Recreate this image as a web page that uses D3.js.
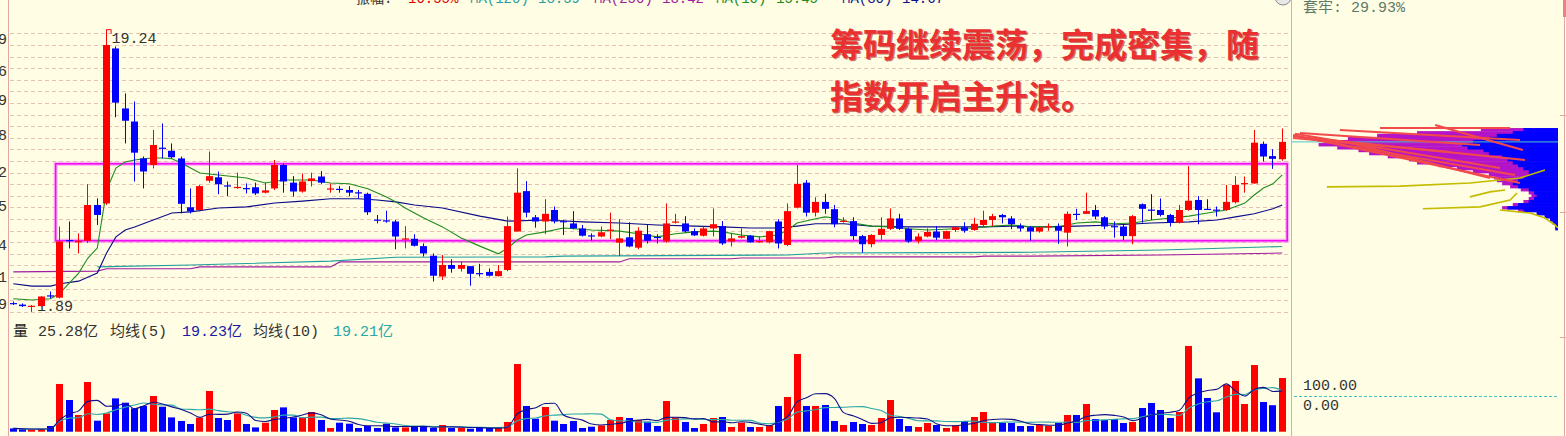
<!DOCTYPE html>
<html>
<head>
<meta charset="utf-8">
<script src="https://cdn.jsdelivr.net/npm/d3@7"></script>
<style>
body { margin: 0; background: #fffde3; }
svg { display: block; }
</style>
</head>
<body>
<div id="chart"></div>
<script>
// daily candles, day 1..137
var openP = [12.12,12.08,12.04,12.04,12.32,12.26,13.76,13.71,13.74,14.67,14.71,18.74,17.18,16.84,15.88,15.71,16.16,16.08,15.88,14.61,
  14.54,15.30,15.39,15.18,15.11,15.11,15.13,14.99,15.10,15.71,15.25,15.02,15.29,15.41,15.09,15.09,15.06,15.00,14.96,14.29,
  14.27,14.24,13.79,13.79,13.60,13.35,12.81,13.11,13.01,13.08,12.90,12.93,12.82,12.98,13.98,15.03,14.35,14.24,14.54,14.25,
  14.19,14.06,13.88,13.85,14.01,13.69,13.83,13.56,13.91,13.84,13.72,14.22,14.19,13.99,13.87,14.06,14.12,13.72,13.82,13.87,
  13.71,13.70,14.24,13.63,14.60,15.25,14.47,14.75,14.56,14.25,14.25,13.86,13.65,13.89,14.05,14.32,14.05,13.73,13.85,13.98,
  13.79,14.02,14.09,14.02,14.15,14.28,14.41,14.32,14.13,14.09,13.98,14.09,14.12,13.95,14.44,14.44,14.54,14.35,14.12,14.11,
  13.86,14.69,14.55,14.54,14.41,14.21,14.54,14.80,14.57,14.55,14.54,14.74,15.22,15.23,16.26,15.94,15.86];
var highP = [12.16,12.11,12.07,12.30,12.42,14.11,14.24,13.93,15.21,14.84,19.24,18.79,17.57,17.36,15.93,16.62,16.79,16.27,15.93,15.10,
  15.19,16.06,15.54,15.28,15.51,15.23,15.25,15.25,15.84,15.75,15.42,15.49,15.51,15.55,15.23,15.16,15.16,15.06,14.99,14.41,
  14.52,14.28,14.12,13.91,13.67,13.41,13.37,13.26,13.20,13.08,13.14,13.02,13.11,14.37,15.62,15.29,14.41,14.82,14.63,14.28,
  14.51,14.15,13.93,14.11,14.47,14.30,14.22,14.09,14.15,13.91,14.71,14.44,14.38,14.06,14.11,14.58,14.25,13.93,14.06,13.89,
  13.85,14.00,14.30,14.71,15.71,15.32,14.87,14.96,14.67,14.35,14.35,13.89,13.91,14.35,14.58,14.44,14.08,13.93,14.06,14.12,
  14.00,14.12,14.22,14.34,14.52,14.44,14.44,14.38,14.19,14.12,14.12,14.19,14.19,14.50,14.57,14.99,14.67,14.38,14.24,14.15,
  14.41,14.71,14.95,14.84,14.44,14.67,15.68,14.90,14.82,14.63,15.19,15.42,15.41,16.62,16.32,16.12,16.66];
var lowP = [12.07,12.02,11.89,12.03,12.24,12.24,13.54,13.41,13.68,14.15,14.67,16.95,16.27,15.28,15.10,15.62,15.88,15.88,14.45,14.45,
  14.50,15.25,14.95,14.90,15.09,14.97,14.93,14.97,15.06,14.99,14.89,14.99,15.15,15.22,14.99,14.99,14.90,14.84,14.41,14.19,
  14.21,13.52,13.54,13.59,13.33,12.68,12.72,12.91,12.94,12.57,12.81,12.81,12.81,12.95,13.98,14.35,14.08,13.92,14.19,13.89,
  14.04,13.85,13.74,13.83,13.78,13.34,13.57,13.52,13.67,13.67,13.69,14.19,13.95,13.86,13.85,13.85,13.63,13.59,13.80,13.69,
  13.69,13.67,13.54,13.60,14.58,14.37,14.37,14.44,14.09,14.21,13.76,13.43,13.57,13.76,14.02,14.02,13.69,13.67,13.83,13.76,
  13.78,13.97,13.95,14.00,14.12,14.12,14.19,14.04,13.98,13.74,13.95,14.00,13.66,13.59,14.28,14.44,14.30,14.04,13.82,13.76,
  13.65,14.21,14.28,14.37,14.11,14.19,14.52,14.17,14.54,14.37,14.52,14.71,14.99,15.22,15.80,15.61,15.82];
var closeP = [12.11,12.04,12.05,12.29,12.29,13.72,13.73,13.73,14.67,14.41,18.83,17.33,16.86,16.03,15.54,16.23,16.13,15.91,14.70,14.50,
  15.16,15.42,15.21,15.15,15.14,15.09,14.97,15.05,15.71,15.28,15.02,15.28,15.36,15.25,15.10,15.07,14.99,14.98,14.48,14.27,
  14.25,13.85,13.80,13.61,13.41,12.83,13.11,13.01,13.11,12.88,12.89,12.83,12.95,14.12,14.99,14.47,14.24,14.44,14.24,14.23,
  14.06,13.87,13.86,13.96,14.03,13.80,13.59,14.00,13.74,13.82,14.19,14.24,13.98,13.88,14.06,14.17,13.67,13.80,13.86,13.70,
  13.73,13.99,13.67,14.51,15.22,14.47,14.75,14.57,14.17,14.26,13.86,13.65,13.89,14.05,14.32,14.05,13.72,13.85,13.97,13.82,
  13.99,14.09,14.00,14.18,14.28,14.38,14.35,14.17,14.06,13.98,14.09,14.12,14.00,14.44,14.42,14.51,14.37,14.11,14.10,13.86,
  14.38,14.57,14.53,14.41,14.21,14.54,14.78,14.54,14.55,14.53,14.75,15.19,15.24,16.29,15.93,15.87,16.31];
// volume, 亿
var volume = [1.55,1.08,1.08,1.08,2.68,22.46,14.92,7.86,23.40,5.18,8.62,15.68,13.65,10.97,12.10,16.81,11.77,6.73,5.04,3.63,
  6.59,19.16,6.45,5.51,8.62,3.63,2.02,4.24,10.22,11.44,6.73,6.73,9.27,5.51,1.74,4.24,3.77,1.74,2.68,1.74,
  3.77,2.02,2.02,2.35,2.35,1.74,3.15,1.74,1.74,1.41,1.74,1.74,1.74,4.57,31.87,12.10,6.12,11.63,5.18,3.63,
  5.04,1.74,2.35,2.97,5.51,6.92,6.45,5.51,4.71,2.68,14.45,6.73,4.57,1.74,3.63,6.45,6.92,2.21,4.24,2.21,
  2.21,2.97,12.10,16.34,36.58,12.10,12.10,12.57,5.04,3.15,4.57,3.63,3.15,6.45,14.92,5.98,2.68,2.21,4.10,3.15,
  1.74,2.97,5.04,6.92,9.27,4.57,4.10,4.10,2.68,2.68,3.15,2.68,4.10,7.86,7.86,13.04,5.98,5.51,5.98,4.10,
  4.57,11.16,13.51,10.22,6.45,9.27,40.35,25.10,15.87,9.13,21.99,23.87,13.04,31.40,13.98,12.47,25.28];

// moving average lines (day, price)
var greenDay = [1,3,5,6,7,8,9,10,11,12,13,14,15,16,17,18,19,20,21,23,26,28,30,33,35,37,39,41,42,43,45,47,49,51,53,54,55,56,58,60,
  63,66,68,70,72,74,76,77,79,81,83,84,85,87,88,89,91,93,95,97,99,102,104,106,108,110,111,113,115,117,119,121,123,125,127,129,131,133,134,135,136,137];
var greenVal = [12.23,12.20,12.23,12.38,12.64,12.90,13.29,13.55,15.06,15.63,15.79,15.84,15.87,15.89,15.89,15.87,15.76,15.63,15.50,15.45,
  15.37,15.24,15.32,15.32,15.24,15.22,15.09,14.88,14.75,14.59,14.33,14.10,13.81,13.60,13.40,13.55,13.76,13.89,13.97,14.07,
  14.02,13.99,13.92,13.84,13.92,13.97,13.99,13.97,13.89,13.84,13.89,14.02,14.20,14.31,14.36,14.33,14.20,14.12,14.10,14.05,
  14.02,14.05,14.07,14.12,14.15,14.10,14.10,14.10,14.20,14.23,14.18,14.20,14.28,14.33,14.38,14.46,14.54,14.72,14.93,15.11,15.22,15.45];
var navyDay = [1,3,5,6,8,10,11,12,13,14,16,18,20,23,26,29,32,35,38,40,42,44,47,51,54,58,62,66,70,74,77,80,83,85,87,90,93,97,101,105,
  108,111,115,119,123,127,130,132,134,136,137];
var navyVal = [12.62,12.56,12.56,12.62,12.69,12.90,13.42,13.84,14.02,14.10,14.28,14.46,14.49,14.59,14.62,14.72,14.77,14.83,14.83,14.80,
  14.75,14.67,14.59,14.38,14.25,14.28,14.23,14.20,14.15,14.12,14.10,14.07,14.07,14.12,14.18,14.18,14.12,14.10,14.10,14.10,
  14.12,14.10,14.12,14.15,14.20,14.23,14.28,14.36,14.44,14.57,14.67];
var tealDay = [10,20,35,42,58,60,84,88,100,110,124,137];
var tealVal = [13.06,13.11,13.21,13.31,13.32,13.34,13.37,13.42,13.43,13.44,13.50,13.59];
var purpleDay = [1,10,11,20,21,35,36,66,67,78,79,88,89,104,105,110,124,137];
var purpleVal = [12.93,12.95,13.01,13.01,13.06,13.06,13.19,13.19,13.27,13.27,13.29,13.29,13.32,13.32,13.34,13.34,13.37,13.42];

// left axis tick labels (only the last digit shows at the window edge)
var tickVals = [18.99, 18.16, 17.39, 16.48, 15.52, 14.65, 13.64, 12.81, 12.09];

// chip distribution rows: top price, blue share, total share
var chipPrice = [16.67,16.59,16.52,16.44,16.36,16.28,16.20,16.13,16.05,15.97,15.89,15.81,15.74,15.66,15.58,15.50,15.42,
  15.35,15.27,15.19,15.11,15.03,14.96,14.88,14.80,14.72,14.64,14.57,14.49,14.41,14.33,14.25,14.18,14.10];
var chipBlue = [13,17,23,26,32,36,34,28,26,21,19,17,15,13,11,11,13,15,17,15,11,9,8,9,11,15,19,13,8,5,3,2,1,1];
var chipTotal = [29,53,68,79,86,90,83,75,71,64,56,53,45,38,32,26,24,23,21,18,14,11,10,11,13,17,21,15,8,5,3,2,1,1];
var fanA0 = [99.6,99.6,98.9,97.0,97.0,82.0,46.2,66.9,99.6,78.2];
var fanP0 = [16.49,16.46,16.52,16.44,16.54,16.62,16.75,16.67,16.41,16.28];
var fanA1 = [14.3,16.2,21.8,12.4,29.3,14.3,13.2,18.0,40.6,25.6];
var fanP1 = [15.24,15.45,15.63,15.84,16.23,16.36,16.10,16.67,16.05,15.37];
var edgeA = [[86.9,59.4,33.1,14.3,4.9],[50.8,29.3,18.0,15.4],[21.8,10.5,4.9,1.1,0],[33.1,25.6,19.9]];
var edgeP = [[15.14,15.16,15.24,15.37,15.58],[14.57,14.62,14.80,14.98],[14.54,14.46,14.33,14.15,14.07],[14.88,15.01,15.06]];

var W = 1566, H = 436;
var RED = '#ff0000', BLUE = '#0000ff';
var mono = '"Liberation Mono", "Noto Sans CJK SC", monospace';

var svg = d3.select('#chart').append('svg')
    .attr('width', W)
    .attr('height', H);
svg.append('rect').attr('width', W).attr('height', H).attr('fill', '#fffde3');

var x = d3.scaleLinear().domain([1, 137]).range([13.3, 1282.2]);
var y = d3.scaleLinear().domain([11.89, 19.24]).range([311.9, 29.2]);
var yv = d3.scaleLinear().domain([0, 40]).range([431.7, 346.7]);
var xc = d3.scaleLinear().domain([0, 100]).range([1558, 1292]);

// dashed grid of the price pane
svg.append('g').selectAll('line')
    .data(d3.range(25))
    .enter().append('line')
    .attr('x1', 10).attr('x2', 1290)
    .attr('y1', function (k) { return Math.round(33.3 + 11.6 * k) + 0.5; })
    .attr('y2', function (k) { return Math.round(33.3 + 11.6 * k) + 0.5; })
    .attr('stroke', '#e6c2b4')
    .attr('stroke-dasharray', '4,3');

// frame lines
[8.5, 1291.5, 1564.5].forEach(function (fx) {
    svg.append('line').attr('x1', fx).attr('x2', fx).attr('y1', 0).attr('y2', H)
        .attr('stroke', '#e4a8a0').attr('stroke-width', 1);
});
svg.append('rect').attr('x', 1563).attr('y', 0).attr('width', 3).attr('height', 17).attr('fill', '#f08080');
[115, 212, 337].forEach(function (ty) {
    svg.append('line').attr('x1', 1560).attr('x2', 1566).attr('y1', ty + 0.5).attr('y2', ty + 0.5).attr('stroke', '#e4a8a0');
});

// left axis labels
svg.append('g').selectAll('text')
    .data(tickVals)
    .enter().append('text')
    .attr('x', 7)
    .attr('y', function (d) { return y(d) + 5; })
    .attr('text-anchor', 'end')
    .attr('font-family', mono)
    .attr('font-size', 15)
    .attr('fill', '#333')
    .text(function (d) { return d.toFixed(2); });

// header (cut by the window top)
var header = [
    { t: '振幅:', x: 356, c: '#333' },
    { t: '10.55%', x: 408, c: '#e00000' },
    { t: 'MA(120)', x: 470, c: '#1f9f9f' },
    { t: '13.59', x: 538, c: '#1f9f9f' },
    { t: 'MA(250)', x: 594, c: '#a01ca0' },
    { t: '13.42', x: 662, c: '#a01ca0' },
    { t: 'MA(10)', x: 716, c: '#1e8c1e' },
    { t: '15.45', x: 776, c: '#1e8c1e' },
    { t: 'MA(30)', x: 842, c: '#101090' },
    { t: '14.67', x: 902, c: '#101090' }
];
svg.append('g').selectAll('text')
    .data(header)
    .enter().append('text')
    .attr('x', function (d) { return d.x; })
    .attr('y', 3)
    .attr('font-family', mono)
    .attr('font-size', 14)
    .attr('fill', function (d) { return d.c; })
    .text(function (d) { return d.t; });
svg.append('circle').attr('cx', 1283).attr('cy', -3).attr('r', 8)
    .attr('fill', '#e8e8e8').attr('stroke', '#8a8a8a');

// consolidation box
var boxTop = y(15.74), boxBot = y(13.74);
svg.append('rect')
    .attr('x', x(5) + 5).attr('y', boxTop)
    .attr('width', x(137) + 5 - x(5) - 5).attr('height', boxBot - boxTop)
    .attr('fill', 'none').attr('stroke', '#ff80ff').attr('stroke-width', 4).attr('opacity', 0.6);
svg.append('rect')
    .attr('x', x(5) + 5).attr('y', boxTop)
    .attr('width', x(137) + 5 - x(5) - 5).attr('height', boxBot - boxTop)
    .attr('fill', 'none').attr('stroke', '#ee10ee').attr('stroke-width', 1.6);

// moving averages
function maLine(days, vals, color) {
    var pts = days.map(function (d, i) { return [x(d), y(vals[i])]; });
    svg.append('path')
        .attr('d', d3.line()(pts))
        .attr('fill', 'none')
        .attr('stroke', color)
        .attr('stroke-width', 1.1);
}
maLine(purpleDay, purpleVal, '#a01ca0');
maLine(tealDay, tealVal, '#1f9f9f');
maLine(navyDay, navyVal, '#0a0a8a');
maLine(greenDay, greenVal, '#1e8c1e');

// high / low marks
svg.append('text').attr('x', x(11) + 5).attr('y', y(19.24) + 14)
    .attr('font-family', mono).attr('font-size', 15).attr('fill', '#333').text('19.24');
svg.append('path').attr('d', 'M' + (x(11) + 0.5) + ',' + (y(19.24) + 0.5) + 'h4v4')
    .attr('fill', 'none').attr('stroke', RED);
svg.append('text').attr('x', x(3) + 5).attr('y', y(11.89) - 1)
    .attr('font-family', mono).attr('font-size', 15).attr('fill', '#333').text('1.89');

// candles
var candles = openP.map(function (o, i) {
    return { day: i + 1, o: o, h: highP[i], l: lowP[i], c: closeP[i], v: volume[i] };
});
var bodyW = 7;
var cg = svg.append('g').selectAll('g')
    .data(candles)
    .enter().append('g');
cg.append('line')
    .attr('x1', function (d) { return Math.round(x(d.day) - bodyW / 2) + 3.5; })
    .attr('x2', function (d) { return Math.round(x(d.day) - bodyW / 2) + 3.5; })
    .attr('y1', function (d) { return y(d.h); })
    .attr('y2', function (d) { return y(d.l); })
    .attr('stroke', function (d) { return d.c >= d.o ? RED : BLUE; });
cg.append('rect')
    .attr('x', function (d) { return Math.round(x(d.day) - bodyW / 2); })
    .attr('width', bodyW)
    .attr('y', function (d) { return y(Math.max(d.o, d.c)); })
    .attr('height', function (d) { return Math.max(1.2, Math.abs(y(d.o) - y(d.c))); })
    .attr('fill', function (d) { return d.c >= d.o ? RED : BLUE; });

// annotation
var note = ['筹码继续震荡，完成密集，随', '指数开启主升浪。'];
[['#9a1010', 1.2, 0.55], ['#ea3030', 0, 1]].forEach(function (s) {
    svg.append('g').selectAll('text')
        .data(note)
        .enter().append('text')
        .attr('x', 830 + s[1])
        .attr('y', function (d, i) { return 57 + s[1] + i * 52; })
        .attr('font-family', '"Noto Sans CJK SC", sans-serif')
        .attr('font-weight', 700)
        .attr('font-size', 33)
        .attr('fill', s[0])
        .attr('opacity', s[2])
        .text(function (d) { return d; });
});

// volume pane
var vmaLabel = [
    { t: '量', x: 13, c: '#222' },
    { t: '25.28亿', x: 38, c: '#333' },
    { t: '均线(5)', x: 110, c: '#333' },
    { t: '19.23亿', x: 182, c: '#1a1aa6' },
    { t: '均线(10)', x: 253, c: '#333' },
    { t: '19.21亿', x: 333, c: '#2aa8a8' }
];
svg.append('g').selectAll('text')
    .data(vmaLabel)
    .enter().append('text')
    .attr('x', function (d) { return d.x; })
    .attr('y', 336)
    .attr('font-family', mono)
    .attr('font-size', 15)
    .attr('fill', function (d) { return d.c; })
    .text(function (d) { return d.t; });

svg.append('g').selectAll('rect')
    .data(candles)
    .enter().append('rect')
    .attr('x', function (d) { return Math.round(x(d.day) - bodyW / 2); })
    .attr('width', bodyW)
    .attr('y', function (d) { return yv(d.v); })
    .attr('height', function (d) { return yv(0) - yv(d.v); })
    .attr('fill', function (d) { return d.c >= d.o ? RED : BLUE; });

function volMa(n) {
    return candles.map(function (d, i) {
        return [x(d.day), yv(d3.mean(volume.slice(Math.max(0, i - n + 1), i + 1)))];
    });
}
svg.append('path').attr('d', d3.line().curve(d3.curveMonotoneX)(volMa(10)))
    .attr('fill', 'none').attr('stroke', '#2aa8a8').attr('stroke-width', 1.1);
svg.append('path').attr('d', d3.line().curve(d3.curveMonotoneX)(volMa(5)))
    .attr('fill', 'none').attr('stroke', '#10108a').attr('stroke-width', 1.1);

// right pane: chip distribution
svg.append('text').attr('x', 1303).attr('y', 12)
    .attr('font-family', mono).attr('font-size', 15).attr('fill', '#5f7a6a').text('套牢: 29.93%');

var rowH = y(chipPrice[1]) - y(chipPrice[0]);
var chips = svg.append('g');
chips.selectAll('rect.total')
    .data(chipPrice)
    .enter().append('rect')
    .attr('class', 'total')
    .attr('x', function (d, i) { return xc(chipTotal[i]); })
    .attr('y', function (d) { return y(d); })
    .attr('width', function (d, i) { return xc(0) - xc(chipTotal[i]); })
    .attr('height', rowH + 0.3)
    .attr('fill', '#b414c8');
chips.selectAll('rect.blue')
    .data(chipPrice)
    .enter().append('rect')
    .attr('class', 'blue')
    .attr('x', function (d, i) { return xc(chipBlue[i]); })
    .attr('y', function (d) { return y(d); })
    .attr('width', function (d, i) { return xc(0) - xc(chipBlue[i]); })
    .attr('height', rowH + 0.3)
    .attr('fill', BLUE);
edgeA.forEach(function (arr, k) {
    var pts = arr.map(function (a, i) { return [xc(a), y(edgeP[k][i])]; });
    chips.append('path').attr('d', d3.line()(pts))
        .attr('fill', 'none').attr('stroke', '#c4bc00').attr('stroke-width', 1.6);
});
chips.append('line')
    .attr('x1', xc(100)).attr('x2', xc(0))
    .attr('y1', y(closeP[136])).attr('y2', y(closeP[136]))
    .attr('stroke', '#48c8c8').attr('stroke-width', 1);
chips.selectAll('line.fan')
    .data(fanA0)
    .enter().append('line')
    .attr('class', 'fan')
    .attr('x1', function (d) { return xc(d); })
    .attr('y1', function (d, i) { return y(fanP0[i]); })
    .attr('x2', function (d, i) { return xc(fanA1[i]); })
    .attr('y2', function (d, i) { return y(fanP1[i]); })
    .attr('stroke', '#f24a4a')
    .attr('stroke-width', 2);

// right pane lower labels
svg.append('line').attr('x1', 1294).attr('x2', 1558).attr('y1', 396.5).attr('y2', 396.5)
    .attr('stroke', '#40c8c8').attr('stroke-dasharray', '3,2');
svg.append('text').attr('x', 1303).attr('y', 390)
    .attr('font-family', mono).attr('font-size', 15).attr('fill', '#333').text('100.00');
svg.append('text').attr('x', 1303).attr('y', 410)
    .attr('font-family', mono).attr('font-size', 15).attr('fill', '#333').text('0.00');
</script>
</body>
</html>
